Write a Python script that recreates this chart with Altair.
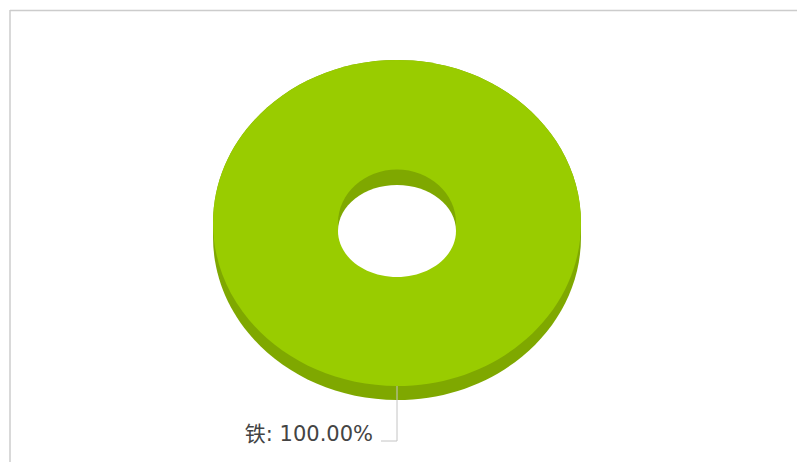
import altair as alt
import pandas as pd

categories = ["铁"]
values = [100.0]

df = pd.DataFrame({"category": categories, "value": values})
df["label"] = [f"{c}: {v:.2f}%" for c, v in zip(categories, values)]

TOP = "#99cc00"
SIDE = "#7fa800"
W, H = 789, 454
OX, OY = 8, 8  # page margin
CX, CY = 397 - OX, 223 - OY
RX, RY, DEPTH = 184.0, 163.0, 14.0
HX, HY = 59.0, 53.5
# opening seen through the ring: same width, flatter, sits lower
OPEN_RY, OPEN_CY = 46.0, 231 - OY


def ellipse(ry):
    return f"M -1 0 A 1 {ry:.4f} 0 1 1 1 0 A 1 {ry:.4f} 0 1 1 -1 0 Z"


def body(ry, d):
    return (f"M -1 0 A 1 {ry:.4f} 0 0 1 1 0 L 1 {d:.4f} "
            f"A 1 {ry:.4f} 0 0 1 -1 {d:.4f} Z")


def shape_layer(path, color, rx, cy=CY):
    return alt.Chart(df).mark_point(
        shape=path, filled=True, fill=color, stroke=None, opacity=1
    ).encode(
        x=alt.value(CX),
        y=alt.value(cy),
        size=alt.value(4 * rx * rx),
    )


border_top = alt.Chart(df).mark_rule(color="#cccccc", strokeWidth=1.5).encode(
    x=alt.value(2), x2=alt.value(W), y=alt.value(2.5)
)
border_left = alt.Chart(df).mark_rule(color="#cccccc", strokeWidth=1.5).encode(
    x=alt.value(2), y=alt.value(2), y2=alt.value(H)
)

leader_v = alt.Chart(df).mark_rule(color="#c4c4c4", strokeWidth=1).encode(
    x=alt.value(397 - OX), y=alt.value(386 - OY), y2=alt.value(441 - OY)
)
leader_h = alt.Chart(df).mark_rule(color="#c4c4c4", strokeWidth=1).encode(
    x=alt.value(381 - OX), x2=alt.value(397 - OX), y=alt.value(441 - OY)
)

label = alt.Chart(df).mark_text(
    align="right", baseline="middle", fontSize=21, color="#444444",
    font="DejaVu Sans, Noto Sans CJK SC",
).encode(
    x=alt.value(373 - OX), y=alt.value(435 - OY), text="label:N"
)

chart = alt.layer(
    border_top,
    border_left,
    shape_layer(body(RY / RX, DEPTH / RX), SIDE, RX),
    shape_layer(ellipse(RY / RX), TOP, RX),
    shape_layer(ellipse(HY / HX), SIDE, HX),
    shape_layer(ellipse(OPEN_RY / HX), "#ffffff", HX, OPEN_CY),
    leader_v,
    leader_h,
    label,
).properties(
    width=W, height=H, padding=0, background="white",
    autosize=alt.AutoSizeParams(type="none"),
).configure_view(stroke=None)

chart.save("out.html", embed_options={"renderer": "svg", "actions": False})
